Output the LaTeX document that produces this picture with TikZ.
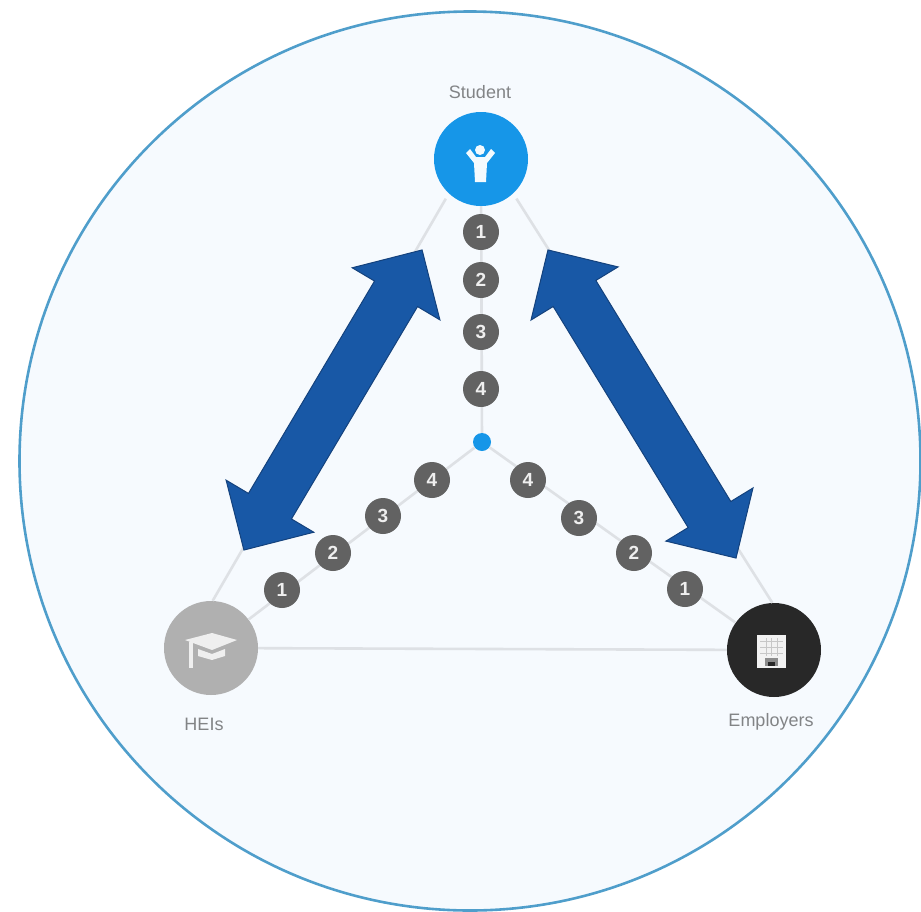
\documentclass[tikz,border=0pt]{standalone}
\usepackage{fontspec}
\setmainfont{Liberation Sans}
\usetikzlibrary{shapes,arrows}

\definecolor{ring_blue}{RGB}{79,158,203}
\definecolor{disc_fill}{RGB}{246,250,254}
\definecolor{link_grey}{RGB}{222,225,229}
\definecolor{student_blue}{RGB}{22,150,232}
\definecolor{hei_grey}{RGB}{176,176,176}
\definecolor{employer_dark}{RGB}{40,40,40}
\definecolor{step_grey}{RGB}{98,98,98}
\definecolor{arrow_blue}{RGB}{24,88,166}
\definecolor{arrow_edge}{RGB}{20,66,125}
\definecolor{label_grey}{RGB}{130,132,134}

\begin{document}
\begin{tikzpicture}[x=1pt, y=-1pt,
      block_actor/.style ={circle, draw=none, minimum size=94pt, inner sep=0pt},
      block_step/.style ={circle, draw=none, fill=step_grey, text=white!90!step_grey,
        minimum size=36pt, inner sep=0pt, font=\fontsize{19}{20}\selectfont\bfseries},
      block_label/.style ={draw=none, text=label_grey, inner sep=0pt,
        font=\fontsize{18}{20}\selectfont},
      block_arrow/.style ={double arrow, draw=arrow_edge, fill=arrow_blue, line width=1pt,
        minimum width=101pt, inner xsep=0pt, inner ysep=24.5pt, double arrow head extend=26pt,
        double arrow head indent=0pt},
      line/.style ={draw=link_grey, line width=2.6pt}]
    \useasboundingbox (0,0) rectangle (921,911);
    %
    % 1. background disc
    \node [ellipse, draw=ring_blue, fill=disc_fill, line width=2.6pt, inner sep=0pt,
      minimum width=901pt, minimum height=899pt] (disc) at (470,461) {};
    %
    % 2. actors and centre
    \node [block_actor, fill=student_blue] (student) at (481,159) {};
    \node [block_actor, fill=hei_grey] (hei) at (211,648) {};
    \node [block_actor, fill=employer_dark] (employer) at (774,650) {};
    \node [circle, fill=student_blue, minimum size=18pt, inner sep=0pt] (centre) at (482,442) {};
    %
    % labels
    \node [block_label] (student_lbl) at (480,92) {Student};
    \node [block_label] (hei_lbl) at (204,724) {HEIs};
    \node [block_label] (employer_lbl) at (771,722) {Employers};
    %
    % 3. connecting nodes with paths
    \begin{scope}[every path/.style=line]
      \path [shorten <=6pt] (student.227) -- (hei.88);
      \path [shorten <=6pt] (student.313) -- (employer.92);
      \path (hei) -- (employer);
      \path (student) -- (centre);
      \path (hei) -- (centre);
      \path (employer) -- (centre);
    \end{scope}
    %
    % 4. numbered steps
    \node [block_step] (s1) at (481,232) {1};
    \node [block_step] (s2) at (481,280) {2};
    \node [block_step] (s3) at (481,332) {3};
    \node [block_step] (s4) at (481,389) {4};
    \node [block_step] (h1) at (282,590) {1};
    \node [block_step] (h2) at (333,553) {2};
    \node [block_step] (h3) at (383,516) {3};
    \node [block_step] (h4) at (432,480) {4};
    \node [block_step] (e1) at (685,589) {1};
    \node [block_step] (e2) at (634,553) {2};
    \node [block_step] (e3) at (579,518) {3};
    \node [block_step] (e4) at (528,480) {4};
    %
    % 5. block arrows
    \node [block_arrow, minimum height=349pt, rotate=59.3] (arrow_left) at (333,400) {};
    \node [block_arrow, minimum height=361pt, rotate=-58.6] (arrow_right) at (642,404) {};
    %
    % 6. icons
    % student
    \fill [white!95!student_blue] (480,150) circle (5pt);
    \fill [white!95!student_blue] (466,153) -- (470,149) -- (476,157) -- (485,157) -- (491,149) -- (495,153)
      -- (487,163) -- (486,182) -- (475,182) -- (474,163) -- cycle;
    % cap
    \fill [white!80!hei_grey] (185,640) -- (212,633) -- (237,640) -- (212,650) -- cycle;
    \fill [white!80!hei_grey] (198,649) -- (212,654) -- (225,649) -- (225,656) -- (212,660) -- (198,656) -- cycle;
    \fill [white!80!hei_grey] (189,642) rectangle (193,668);
    % building
    \fill [white!95!black] (757,635) rectangle (786,668);
    \draw [black!22, line width=1pt] (760,641) -- (783,641) (760,647) -- (783,647) (760,653) -- (783,653)
      (766,638) -- (766,656) (771.5,638) -- (771.5,656) (777,638) -- (777,656);
    \fill [black!45] (765,658) rectangle (778,666);
    \fill [employer_dark] (768,662) rectangle (775,666);
  \end{tikzpicture}
\end{document}
